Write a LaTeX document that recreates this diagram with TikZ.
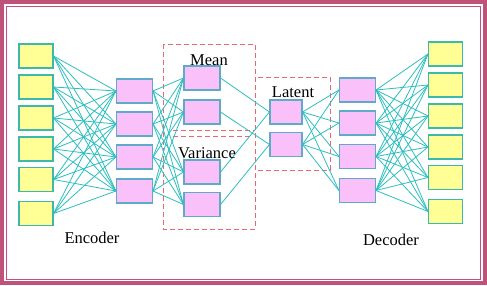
\documentclass[tikz,border=0pt]{standalone}
\usepackage{fontspec}
\setmainfont{Liberation Serif}
\definecolor{frame}{RGB}{192,82,122}
\definecolor{conn}{RGB}{45,190,192}
\definecolor{yfill}{RGB}{255,255,150}
\definecolor{yedge}{RGB}{60,185,170}
\definecolor{pfill}{RGB}{250,192,250}
\definecolor{pedge}{RGB}{95,170,200}
\definecolor{dash}{RGB}{232,105,115}
\tikzset{
  ybox/.style={rectangle,draw=yedge,fill=yfill,line width=1.1pt,minimum width=34pt,minimum height=24pt,inner sep=0pt},
  pbox/.style={rectangle,draw=pedge,fill=pfill,line width=1.1pt,minimum width=36pt,minimum height=24pt,inner sep=0pt},
  lbox/.style={pbox,minimum width=32pt},
  link/.style={draw=conn,line width=0.8pt},
  dbox/.style={draw=dash,line width=1pt,dash pattern=on 5pt off 3pt},
  lab/.style={font=\fontsize{16.5pt}{18pt}\selectfont,anchor=base,inner sep=0pt}
}
\begin{document}
\begin{tikzpicture}[x=1pt,y=-1pt]
\useasboundingbox (0,0) rectangle (487,285);
\fill[white] (0,0) rectangle (487,285);
% frame
\draw[frame,line width=3.6pt] (1.8,1.8) rectangle (485.2,283.2);
\draw[frame,line width=1.2pt] (6.2,6.2) rectangle (480.6,279.4);
% dashed groups
\draw[dbox] (163,44) rectangle (255,229);
\draw[dbox] (173,130) -- (255,130);
\draw[dbox] (173,136) -- (252,136);
\draw[dbox] (255,77) rectangle (330,170);
% input layer
\foreach \i/\y in {1/56,2/87,3/118,4/149,5/179.5,6/213.5}
  \node[ybox] (in\i) at (36,\y) {};
% encoder hidden
\foreach \i/\y in {1/91,2/124,3/157,4/191}
  \node[pbox] (eh\i) at (134.5,\y) {};
% mean / variance
\node[pbox] (m1) at (202,78) {};
\node[pbox] (m2) at (202,112) {};
\node[pbox] (v1) at (202,172) {};
\node[pbox] (v2) at (202,204.5) {};
% latent
\node[lbox] (z1) at (286,112) {};
\node[lbox] (z2) at (286,144.5) {};
% decoder hidden
\foreach \i/\y in {1/90,2/123,3/156.5,4/190.5}
  \node[pbox] (dh\i) at (357.5,\y) {};
% output layer
\foreach \i/\y in {1/54,2/85,3/116,4/147,5/177.5,6/211.5}
  \node[ybox] (out\i) at (445.5,\y) {};
% connections
\begin{scope}[on background layer/.style={}]
\foreach \a in {1,...,6}
  \foreach \b in {1,...,4}
    \draw[link] (in\a.east) -- (eh\b.west);
\foreach \a in {1,...,4}
  \foreach \b in {m1,m2,v1,v2}
    \draw[link] (eh\a.east) -- (\b.west);
\draw[link] (m1.east) -- (z1.west);
\draw[link] (v1.east) -- (z1.west);
\draw[link] (m2.east) -- (z2.west);
\draw[link] (v2.east) -- (z2.west);
\foreach \a in {1,2}
  \foreach \b in {1,...,4}
    \draw[link] (z\a.east) -- (dh\b.west);
\foreach \a in {1,...,4}
  \foreach \b in {1,...,6}
    \draw[link] (dh\a.east) -- (out\b.west);
\end{scope}
% labels
\node[lab] (encl) at (92,243) {Encoder};
\node[lab] (decl) at (391,245) {Decoder};
\node[lab] (meanl) at (209,65) {Mean};
\node[lab] (varl) at (207,158) {Variance};
\node[lab] (latl) at (293,97) {Latent};
\end{tikzpicture}
\end{document}
